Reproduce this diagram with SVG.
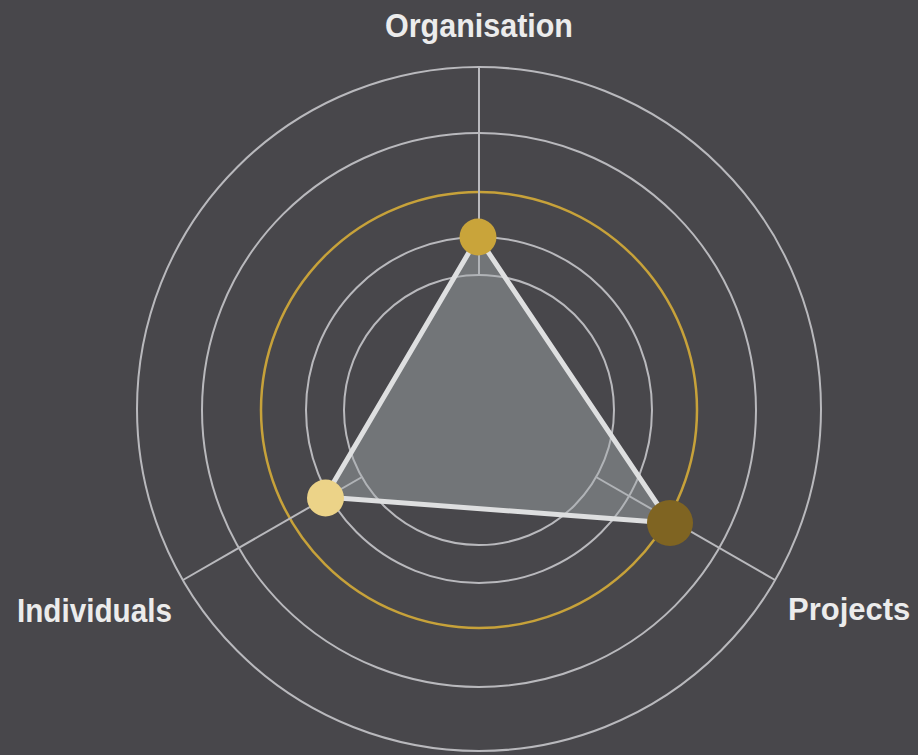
<svg xmlns="http://www.w3.org/2000/svg" width="918" height="755" viewBox="0 0 918 755">
  <style>
    .ring { fill: none; stroke: #b9b9bd; stroke-width: 2; }
    .gold { fill: none; stroke: #c7a23a; stroke-width: 2.5; }
    .axis { stroke: #b9b9bd; stroke-width: 2; }
    .lbl { font-family: "Liberation Sans", Arial, sans-serif; font-weight: bold; font-size: 34px; fill: #ececec; }
  </style>
  <rect x="0" y="0" width="918" height="755" fill="#48474b"/>
  <g id="grid">
    <circle class="ring" cx="479" cy="410" r="135"/>
    <circle class="ring" cx="479" cy="410" r="173"/>
    <circle class="gold" cx="479" cy="410" r="218"/>
    <circle class="ring" cx="479" cy="410" r="277"/>
    <circle class="ring" cx="479" cy="409" r="342"/>
  </g>
  <g id="connectors">
    <line class="axis" x1="479" y1="275" x2="479" y2="67"/>
    <line class="axis" x1="362" y1="477" x2="183" y2="580"/>
    <line class="axis" x1="596" y1="477" x2="775" y2="580"/>
  </g>
  <g id="area">
    <polygon points="478,237 325,497 670,523" fill="#a6adb0" fill-opacity="0.45" stroke="#dedfe0" stroke-width="5" stroke-linejoin="round"/>
  </g>
  <g id="node-organisation">
    <circle cx="478" cy="237" r="18.5" fill="#c9a43a"/>
    <text class="lbl" x="479" y="37" text-anchor="middle" textLength="188" lengthAdjust="spacingAndGlyphs">Organisation</text>
  </g>
  <g id="node-individuals">
    <circle cx="325.5" cy="498" r="18.5" fill="#ecd388"/>
    <text class="lbl" x="17" y="622" textLength="155" lengthAdjust="spacingAndGlyphs">Individuals</text>
  </g>
  <g id="node-projects">
    <circle cx="670" cy="523" r="23" fill="#7f6422"/>
    <text class="lbl" x="788" y="620" style="font-size:31px">Projects</text>
  </g>
</svg>
